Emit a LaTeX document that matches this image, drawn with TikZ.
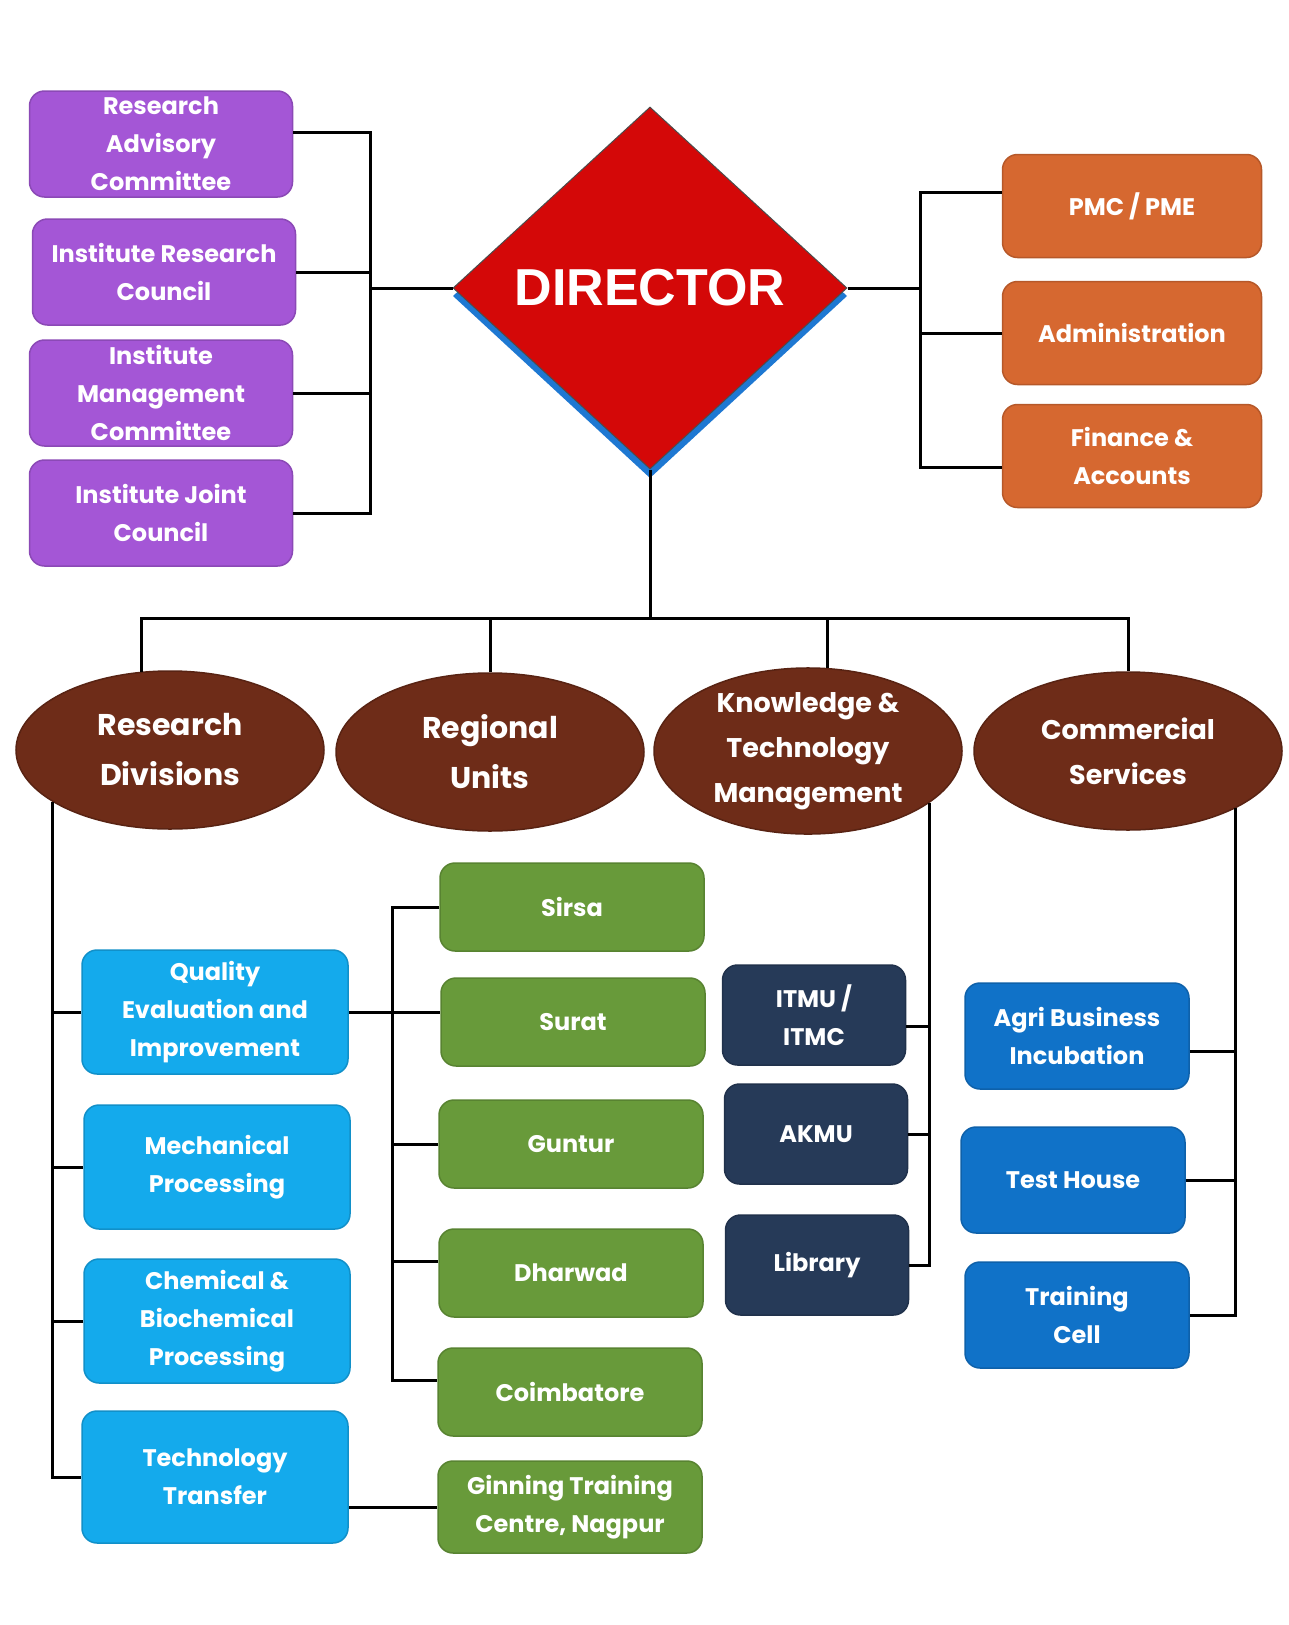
\documentclass[tikz,border=0pt]{standalone}
\usepackage{fontspec}
\setmainfont{Poppins}
\newfontfamily\headfont{Liberation Sans}
\usetikzlibrary{shapes.geometric,positioning}

\definecolor{councilpurple}{RGB}{164,86,214}
\definecolor{adminorange}{RGB}{214,104,48}
\definecolor{wingbrown}{RGB}{110,44,24}
\definecolor{divblue}{RGB}{20,170,236}
\definecolor{unitgreen}{RGB}{104,154,58}
\definecolor{ktmnavy}{RGB}{38,58,88}
\definecolor{servblue}{RGB}{16,114,200}
\definecolor{directorred}{RGB}{212,8,8}
\definecolor{shadowblue}{RGB}{30,120,210}

\begin{document}
\begin{tikzpicture}[x=1pt,y=-1pt]

            \tikzstyle{box}=[rectangle,rounded corners=15pt,line width=1.5pt,text=white,align=center,inner sep=2pt,font=\bfseries\fontsize{24}{38}\selectfont]
            \tikzstyle{council}=[box,fill=councilpurple,draw=councilpurple!85!black,minimum width=263pt,minimum height=106pt]
            \tikzstyle{office}=[box,fill=adminorange,draw=adminorange!85!black,minimum width=259pt,minimum height=103pt]
            \tikzstyle{division}=[box,fill=divblue,draw=divblue!85!black,minimum width=266pt,minimum height=124pt]
            \tikzstyle{unit}=[box,fill=unitgreen,draw=unitgreen!85!black,minimum width=264pt,minimum height=88pt]
            \tikzstyle{ktmbox}=[box,fill=ktmnavy,draw=ktmnavy!85!black,minimum width=183pt,minimum height=100pt]
            \tikzstyle{service}=[box,fill=servblue,draw=servblue!85!black,minimum width=224pt,minimum height=106pt]
            \tikzstyle{wing}=[ellipse,fill=wingbrown,draw=wingbrown!80!black,line width=1.5pt,text=white,align=center,inner sep=0pt,minimum width=308pt,minimum height=158pt,font=\bfseries\fontsize{30}{50}\selectfont]
            \tikzstyle{link}=[draw=black,line width=3pt]

            \fill[white] (0,0) rectangle (1289,1625);
            \useasboundingbox (0,0) rectangle (1289,1625);

            \fill[shadowblue] (650,115) -- (847,296) -- (650,478) -- (453,296) -- cycle;
            \node[diamond,fill=directorred,draw=black!70,line width=1pt,minimum width=394pt,minimum height=362pt,inner sep=0pt,text=white,font=\headfont\bfseries\fontsize{52}{60}\selectfont] (director) at (650,288) {DIRECTOR};

            \node[council] (rac) at (161,144) {Research\\Advisory\\Committee};
            \node[council] (irc) at (164,272) {Institute Research\\Council};
            \node[council] (imc) at (161,393) {Institute\\Management\\Committee};
            \node[council] (ijc) at (161,513) {Institute Joint\\Council};

            \node[office] (pmc) at (1132,206) {PMC / PME};
            \node[office] (adm) at (1132,333) {Administration};
            \node[office] (fin) at (1132,456) {Finance \&\\Accounts};

            \node[wing] (rd)  at (170,750)  {Research\\Divisions};
            \node[wing] (ru)  at (490,752)  {Regional\\Units};
            \node[wing,font=\bfseries\fontsize{27}{45}\selectfont] (ktm) at (808,751) {Knowledge \&\\Technology\\Management};
            \node[wing,font=\bfseries\fontsize{27}{45}\selectfont] (cs)  at (1128,751) {Commercial\\Services};

            \node[division] (qei) at (215,1012) {Quality\\Evaluation and\\Improvement};
            \node[division] (mp)  at (217,1167) {Mechanical\\Processing};
            \node[division] (cbp) at (217,1321) {Chemical \&\\Biochemical\\Processing};
            \node[division,minimum height=132pt] (tt) at (215,1477) {Technology\\Transfer};

            \node[unit] (sirsa)   at (572,907)  {Sirsa};
            \node[unit] (surat)   at (573,1022) {Surat};
            \node[unit] (guntur)  at (571,1144) {Guntur};
            \node[unit] (dharwad) at (571,1273) {Dharwad};
            \node[unit] (coim)    at (570,1392) {Coimbatore};
            \node[unit,minimum height=92pt] (gtc) at (570,1507) {Ginning Training\\Centre, Nagpur};

            \node[ktmbox] (itmu) at (814,1015) {ITMU /\\ITMC};
            \node[ktmbox] (akmu) at (816,1134) {AKMU};
            \node[ktmbox] (lib)  at (817,1265) {Library};

            \node[service] (abi) at (1077,1036) {Agri Business\\Incubation};
            \node[service] (th)  at (1073,1180) {Test House};
            \node[service] (tc)  at (1077,1315) {Training\\Cell};

            \coordinate (lbus) at (370,288);
            \coordinate (rbus) at (920,288);
            \coordinate (tbus) at (650,618);
            \coordinate (gbus) at (392,1012);

            \draw[link] (director.west) -- (lbus);
            \draw[link] (rac.5) -| (lbus) |- (ijc.east);
            \draw[link] (irc.east) -- (irc.east -| lbus);
            \draw[link] (imc.east) -- (imc.east -| lbus);

            \draw[link] (director.east) -- (rbus);
            \draw[link] (pmc.174) -| (rbus) |- (fin.185);
            \draw[link] (adm.west) -- (adm.west -| rbus);

            \draw[link] (director.south) -- (tbus);
            \draw[link] (rd.110) |- (tbus) -| (cs.north);
            \draw[link] (ru.north) -- (ru.north |- tbus);
            \draw[link] (ktm.77) -- (ktm.77 |- tbus);

            \draw[link] (rd.204) |- (tt.west);
            \foreach \n in {qei,mp,cbp}
                \draw[link] (\n.west) -- (\n.west -| rd.204);

            \draw[link] (qei.east) -- (qei.east -| surat.west);
            \draw[link] (sirsa.west) -| (gbus) |- (coim.175);
            \draw[link] (guntur.west) -- (guntur.west -| gbus);
            \draw[link] (dharwad.175) -- (dharwad.175 -| gbus);
            \draw[link] (gtc.west) -- (gtc.west -| tt.east);

            \draw[link] (ktm.-23) |- (lib.east);
            \draw[link] (itmu.-7) -- (itmu.-7 -| ktm.-23);
            \draw[link] (akmu.east) -- (akmu.east -| ktm.-23);

            \draw[link] (cs.-28) |- (tc.east);
            \draw[link] (abi.-8) -- (abi.-8 -| cs.-28);
            \draw[link] (th.east) -- (th.east -| cs.-28);
        \end{tikzpicture}
\end{document}
